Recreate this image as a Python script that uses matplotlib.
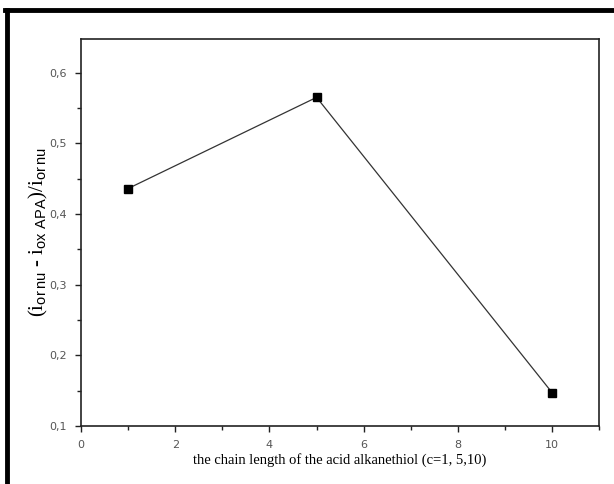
import matplotlib
matplotlib.use("Agg")
import matplotlib.pyplot as plt
from matplotlib.lines import Line2D
from matplotlib.ticker import MultipleLocator, FuncFormatter

plt.rcParams["mathtext.fontset"] = "custom"
plt.rcParams["mathtext.rm"] = "Liberation Serif"
plt.rcParams["mathtext.sf"] = "Liberation Sans"

# chain length vs relative current change
chain_length = [1, 5, 10]
ratio = [0.436, 0.565, 0.147]


def comma(v, pos):
    if abs(v - round(v)) < 1e-9:
        return "%d" % round(v)
    return ("%.1f" % v).replace(".", ",")


fig = plt.figure(figsize=(6.14, 4.84), dpi=100)
ax = fig.add_axes([0.132, 0.12, 0.844, 0.80])

ax.plot(chain_length, ratio, color="#333333", lw=0.9,
        marker="s", ms=6, mfc="black", mec="black")

ax.set_xlim(0, 11)
ax.set_ylim(0.1, 0.648)
ax.xaxis.set_major_locator(MultipleLocator(2))
ax.xaxis.set_minor_locator(MultipleLocator(1))
ax.yaxis.set_major_locator(MultipleLocator(0.1))
ax.yaxis.set_minor_locator(MultipleLocator(0.05))
ax.xaxis.set_major_formatter(FuncFormatter(comma))
ax.yaxis.set_major_formatter(FuncFormatter(comma))
ax.tick_params(which="both", direction="out", width=1, colors="#222222",
               labelcolor="#555555", labelsize=8)
ax.tick_params(which="major", length=4, pad=6)
ax.tick_params(which="minor", length=3)
for s in ax.spines.values():
    s.set_linewidth(1.2)
    s.set_color("#222222")

ax.set_xlabel("the chain length of the acid alkanethiol (c=1, 5,10)",
              family="Liberation Serif", fontsize=10.5, labelpad=2)
ax.set_ylabel(r"$(\mathrm{i}_{\mathsf{or\,nu}}$ - $\mathrm{i}_{\mathsf{ox\ APA}})/\mathrm{i}_{\mathsf{or\,nu}}$",
              family="Liberation Serif", fontsize=15, labelpad=0)

# outer frame (top and left only)
fig.add_artist(Line2D([0.0085, 1.0], [0.9793, 0.9793], color="black", lw=3.5,
                      transform=fig.transFigure))
fig.add_artist(Line2D([0.0115, 0.0115], [0.0, 0.9793], color="black", lw=3.5,
                      transform=fig.transFigure))

fig.savefig("out.png", dpi=100)
